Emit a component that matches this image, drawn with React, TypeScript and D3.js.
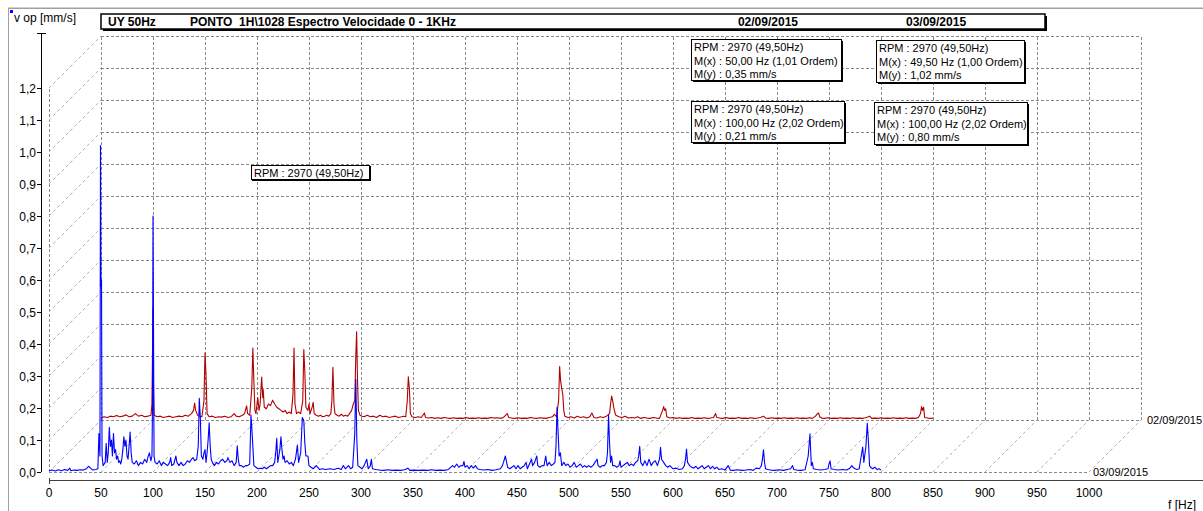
import React from "react";
import * as d3 from "d3";

// Waterfall spectrum: two velocity spectra (0–800 Hz) stacked in depth.
const xTickValues = [0, 50, 100, 150, 200, 250, 300, 350, 400, 450, 500, 550, 600, 650, 700, 750, 800, 850, 900, 950, 1000];
const yTickValues = [0, 0.1, 0.2, 0.3, 0.4, 0.5, 0.6, 0.7, 0.8, 0.9, 1.0, 1.1, 1.2];

const seriesDates = ["03/09/2015", "02/09/2015"];

// 03/09/2015 spectrum (front), [Hz, mm/s]
const spectrumFront: [number, number][] = [
  [0, 0.004], [3, 0.006], [6, 0.003], [9, 0.007], [12, 0.004], [15, 0.008], [18, 0.005], [20, 0.012], [21, 0.004],
  [24, 0.006], [27, 0.005], [30, 0.007], [33, 0.006], [36, 0.01], [38, 0.018], [40, 0.012], [42, 0.006], [45, 0.008],
  [47, 0.01], [48, 0.12], [49, 0.05], [49.5, 1.02], [50, 0.58], [50.5, 0.6], [51, 0.05], [52, 0.02], [54, 0.03],
  [55, 0.09], [56, 0.03], [57, 0.06], [58, 0.14], [59, 0.08], [60, 0.1], [61, 0.05], [62, 0.12], [63, 0.06],
  [64, 0.07], [65, 0.04], [66, 0.05], [67, 0.03], [68, 0.035], [69, 0.025], [70, 0.04], [71, 0.07], [72, 0.11],
  [73, 0.08], [74, 0.1], [75, 0.05], [76, 0.04], [77, 0.08], [78, 0.125], [79, 0.06], [80, 0.03], [82, 0.025],
  [84, 0.035], [86, 0.02], [88, 0.03], [90, 0.025], [92, 0.04], [94, 0.03], [95, 0.045], [96.5, 0.06], [98, 0.035],
  [99, 0.05], [99.5, 0.2], [100, 0.8], [100.5, 0.45], [101, 0.05], [102, 0.03], [104, 0.025], [106, 0.035],
  [108, 0.02], [110, 0.03], [112, 0.025], [114, 0.02], [116, 0.03], [117, 0.045], [118, 0.02], [120, 0.025],
  [122, 0.05], [123, 0.03], [125, 0.02], [127, 0.03], [129, 0.02], [131, 0.025], [133, 0.035], [135, 0.03],
  [137, 0.04], [138.5, 0.045], [140, 0.035], [142, 0.04], [143.5, 0.08], [144.5, 0.23], [145.5, 0.17],
  [146.5, 0.05], [148, 0.04], [149, 0.06], [150, 0.07], [151, 0.03], [152, 0.06], [153, 0.1], [154, 0.154],
  [155, 0.08], [156, 0.04], [157, 0.03], [159, 0.02], [161, 0.03], [163, 0.025], [165, 0.035], [167, 0.04],
  [169, 0.03], [171, 0.035], [172, 0.045], [174, 0.03], [176, 0.035], [178, 0.02], [180, 0.03], [181, 0.082],
  [182, 0.04], [183, 0.02], [185, 0.02], [187, 0.015], [189, 0.02], [191, 0.02], [193, 0.025], [194.2, 0.178],
  [195, 0.14], [196, 0.08], [197, 0.02], [199, 0.015], [201, 0.01], [203, 0.012], [205, 0.01], [207, 0.015],
  [209, 0.01], [211, 0.015], [213, 0.02], [215, 0.02], [217, 0.03], [218, 0.06], [219, 0.105], [220, 0.03],
  [221, 0.05], [222, 0.07], [223, 0.11], [224, 0.07], [225, 0.04], [226, 0.05], [227, 0.03], [229, 0.035],
  [231, 0.025], [233, 0.03], [235, 0.02], [237, 0.04], [238.8, 0.084], [240, 0.03], [242, 0.06], [243.6, 0.17],
  [245, 0.16], [246, 0.09], [247, 0.05], [249, 0.05], [250, 0.02], [252, 0.015], [254, 0.01], [257, 0.02],
  [260, 0.008], [263, 0.01], [266, 0.008], [270, 0.01], [274, 0.008], [278, 0.012], [281, 0.008], [283, 0.02],
  [285, 0.01], [288, 0.02], [290, 0.01], [292, 0.015], [294, 0.12], [295, 0.29], [296, 0.1], [297, 0.02],
  [299, 0.015], [301, 0.01], [303, 0.02], [305.5, 0.04], [307, 0.01], [309, 0.02], [310, 0.04], [311, 0.01],
  [314, 0.008], [318, 0.006], [322, 0.005], [326, 0.007], [330, 0.005], [334, 0.006], [338, 0.005], [342, 0.007],
  [345, 0.012], [347, 0.005], [351, 0.006], [355, 0.005], [360, 0.006], [364, 0.005], [368, 0.007], [372, 0.005],
  [376, 0.006], [380, 0.005], [384, 0.008], [388, 0.02], [390, 0.015], [392, 0.025], [394, 0.015], [396, 0.02],
  [398, 0.02], [399, 0.033], [400, 0.015], [402, 0.02], [404, 0.01], [406, 0.02], [408, 0.012], [410, 0.02],
  [412, 0.01], [414, 0.008], [418, 0.006], [422, 0.008], [426, 0.005], [430, 0.007], [434, 0.01], [436, 0.02],
  [437, 0.03], [438.8, 0.05], [440, 0.03], [441, 0.015], [443, 0.01], [445, 0.015], [447, 0.02], [449, 0.01],
  [451, 0.02], [453, 0.01], [455, 0.015], [457, 0.02], [458.7, 0.03], [460, 0.01], [462, 0.025], [464, 0.04],
  [465, 0.02], [467, 0.03], [469, 0.05], [470, 0.02], [472, 0.015], [474, 0.02], [476, 0.02], [477.6, 0.05],
  [479, 0.02], [481, 0.03], [483, 0.02], [485, 0.025], [486.5, 0.03], [487.5, 0.08], [488.5, 0.202],
  [489.5, 0.125], [490.5, 0.05], [491.7, 0.06], [493, 0.02], [495, 0.03], [497, 0.02], [499, 0.025],
  [501, 0.015], [503, 0.02], [505, 0.03], [507, 0.015], [509, 0.02], [511, 0.025], [513, 0.015], [515, 0.02],
  [517, 0.015], [519, 0.02], [521, 0.015], [523, 0.02], [525, 0.03], [527, 0.04], [528, 0.02], [530, 0.015],
  [532, 0.02], [534, 0.02], [536, 0.03], [537, 0.06], [538, 0.178], [539, 0.09], [540, 0.03], [541, 0.05],
  [542, 0.02], [544, 0.02], [546, 0.015], [548, 0.02], [549, 0.035], [550, 0.015], [552, 0.02], [554, 0.025],
  [556, 0.03], [558, 0.02], [560, 0.025], [562, 0.02], [564, 0.03], [566, 0.035], [567, 0.05], [568, 0.08],
  [569, 0.03], [571, 0.02], [573, 0.035], [575, 0.02], [577, 0.04], [579, 0.02], [581, 0.03], [583, 0.035],
  [585, 0.02], [587, 0.04], [588, 0.077], [589, 0.04], [591, 0.03], [593, 0.02], [595, 0.015], [597, 0.02],
  [600, 0.01], [603, 0.012], [606, 0.008], [609, 0.01], [611, 0.02], [612, 0.04], [613, 0.072], [614, 0.03],
  [616, 0.02], [618, 0.015], [620, 0.012], [622, 0.018], [624, 0.01], [626, 0.015], [628, 0.02], [630, 0.01],
  [632, 0.015], [634, 0.02], [636, 0.01], [638, 0.018], [640, 0.01], [642, 0.015], [644, 0.008], [647, 0.01],
  [650, 0.006], [653, 0.02], [655, 0.006], [658, 0.005], [662, 0.007], [666, 0.005], [670, 0.006], [674, 0.008],
  [677, 0.005], [680, 0.012], [683, 0.01], [685, 0.02], [686, 0.04], [687, 0.069], [688, 0.03], [689, 0.01],
  [691, 0.008], [694, 0.006], [698, 0.005], [702, 0.007], [706, 0.005], [710, 0.008], [713, 0.01], [715, 0.02],
  [716, 0.008], [719, 0.006], [723, 0.005], [727, 0.007], [730, 0.05], [731.7, 0.119], [733, 0.02], [734, 0.03],
  [735, 0.01], [738, 0.008], [742, 0.006], [746, 0.008], [749, 0.01], [750, 0.025], [751, 0.035], [752, 0.01],
  [755, 0.008], [759, 0.006], [763, 0.008], [767, 0.006], [770, 0.012], [772, 0.02], [773, 0.015], [775, 0.01],
  [777, 0.008], [779, 0.01], [781, 0.05], [782.4, 0.078], [783.5, 0.03], [785.5, 0.08], [786.8, 0.152],
  [788, 0.09], [789, 0.02], [790, 0.015], [792, 0.01], [794, 0.015], [796, 0.008], [798, 0.01], [800, 0.006],
];

// 02/09/2015 spectrum (back), [Hz, mm/s]
const spectrumBack: [number, number][] = [
  [0, 0.006], [3, 0.01], [6, 0.008], [9, 0.012], [12, 0.01], [15, 0.014], [18, 0.01], [21, 0.012], [24, 0.016],
  [27, 0.01], [30, 0.012], [33, 0.02], [36, 0.012], [39, 0.015], [42, 0.01], [45, 0.012], [48, 0.015], [49, 0.05],
  [49.5, 0.2], [50, 0.35], [50.5, 0.1], [51, 0.015], [54, 0.01], [57, 0.012], [60, 0.008], [63, 0.01], [66, 0.012],
  [69, 0.008], [72, 0.01], [75, 0.012], [78, 0.01], [81, 0.015], [84, 0.012], [87, 0.02], [89, 0.03], [90, 0.053],
  [91, 0.03], [93, 0.015], [95, 0.012], [97, 0.01], [99, 0.06], [100, 0.21], [101, 0.14], [102, 0.02], [104, 0.01],
  [107, 0.012], [110, 0.008], [113, 0.01], [116, 0.009], [119, 0.012], [122, 0.008], [125, 0.01], [128, 0.02],
  [130, 0.012], [133, 0.01], [136, 0.015], [138, 0.02], [140, 0.044], [141, 0.02], [143, 0.015], [145, 0.1],
  [146, 0.225], [147, 0.12], [148, 0.03], [149, 0.02], [150.7, 0.07], [152, 0.03], [153, 0.05], [154.5, 0.134],
  [155.5, 0.07], [156, 0.094], [157, 0.04], [159, 0.035], [161, 0.05], [163, 0.045], [165, 0.062], [167, 0.05],
  [169, 0.04], [171, 0.035], [173, 0.03], [175, 0.025], [177, 0.03], [179, 0.02], [181, 0.025], [183, 0.02],
  [184.6, 0.08], [185.6, 0.225], [186.5, 0.05], [188, 0.02], [190, 0.025], [192, 0.02], [194, 0.06], [195, 0.22],
  [196, 0.15], [197, 0.04], [199, 0.03], [200, 0.05], [201, 0.02], [203, 0.04], [204, 0.055], [205, 0.02],
  [207, 0.015], [209, 0.012], [211, 0.015], [213, 0.01], [215, 0.012], [217, 0.015], [219, 0.012], [221, 0.02],
  [222, 0.06], [223, 0.165], [224, 0.05], [225, 0.02], [227, 0.015], [229, 0.012], [231, 0.018], [233, 0.012],
  [235, 0.015], [237, 0.012], [239, 0.02], [241, 0.03], [242.6, 0.05], [244, 0.06], [245, 0.2], [245.8, 0.276],
  [246.6, 0.13], [247.5, 0.03], [249, 0.015], [251, 0.012], [253, 0.01], [256, 0.015], [259, 0.01], [262, 0.012],
  [265, 0.008], [268, 0.015], [271, 0.01], [274, 0.012], [277, 0.008], [280, 0.01], [283, 0.012], [286, 0.008],
  [289, 0.01], [291, 0.012], [293, 0.01], [294.5, 0.06], [295.5, 0.135], [296.5, 0.1], [297.5, 0.02], [299, 0.01],
  [302, 0.008], [305, 0.01], [308, 0.008], [311, 0.022], [312, 0.008], [315, 0.006], [318, 0.008], [321, 0.005],
  [324, 0.007], [327, 0.005], [330, 0.008], [333, 0.006], [336, 0.005], [339, 0.007], [342, 0.005], [345, 0.006],
  [348, 0.005], [351, 0.008], [354, 0.005], [357, 0.006], [360, 0.005], [363, 0.007], [366, 0.005], [369, 0.006],
  [372, 0.005], [375, 0.008], [378, 0.006], [381, 0.007], [384, 0.005], [387, 0.008], [390.7, 0.02], [392, 0.008],
  [395, 0.006], [398, 0.005], [401, 0.007], [404, 0.005], [407, 0.006], [410, 0.005], [413, 0.008], [416, 0.006],
  [419, 0.005], [422, 0.007], [425, 0.006], [428, 0.005], [431, 0.008], [434, 0.01], [436, 0.018], [438, 0.01],
  [440, 0.06], [441, 0.167], [442, 0.12], [443, 0.1], [444, 0.08], [445, 0.03], [446, 0.012], [449, 0.008],
  [452, 0.01], [455, 0.006], [458, 0.012], [461, 0.008], [464, 0.01], [467, 0.006], [470, 0.01], [472, 0.022],
  [474, 0.008], [477, 0.006], [480, 0.01], [483, 0.008], [486, 0.012], [489, 0.02], [490, 0.05], [491, 0.075],
  [492, 0.06], [493, 0.04], [494, 0.025], [495, 0.015], [498, 0.01], [501, 0.008], [504, 0.012], [507, 0.006],
  [510, 0.008], [513, 0.006], [516, 0.01], [519, 0.005], [522, 0.008], [525, 0.006], [528, 0.005], [531, 0.008],
  [534, 0.006], [537, 0.005], [540, 0.03], [541, 0.042], [542, 0.03], [543, 0.035], [544, 0.01], [547, 0.006],
  [550, 0.008], [553, 0.005], [556, 0.007], [559, 0.005], [562, 0.006], [565, 0.005], [568, 0.008], [571, 0.005],
  [574, 0.006], [577, 0.005], [580, 0.007], [583, 0.005], [586, 0.006], [589, 0.008], [591, 0.02], [592, 0.008],
  [595, 0.006], [598, 0.005], [601, 0.008], [604, 0.005], [607, 0.006], [610, 0.005], [613, 0.008], [616, 0.005],
  [619, 0.006], [622, 0.005], [625, 0.007], [628, 0.005], [631, 0.006], [634, 0.008], [637, 0.012], [639, 0.006],
  [642, 0.005], [645, 0.007], [648, 0.005], [651, 0.006], [654, 0.005], [657, 0.007], [660, 0.005], [663, 0.006],
  [666, 0.005], [669, 0.007], [672, 0.005], [675, 0.006], [678, 0.005], [681, 0.007], [684, 0.005], [687, 0.012],
  [689, 0.02], [690, 0.022], [691, 0.01], [693, 0.006], [696, 0.005], [699, 0.007], [702, 0.005], [705, 0.006],
  [708, 0.005], [711, 0.007], [714, 0.005], [717, 0.006], [720, 0.005], [723, 0.007], [726, 0.005], [729, 0.006],
  [732, 0.005], [735, 0.007], [738, 0.01], [739, 0.012], [741, 0.005], [744, 0.006], [747, 0.005], [750, 0.007],
  [753, 0.005], [756, 0.006], [759, 0.005], [762, 0.007], [765, 0.005], [768, 0.006], [771, 0.005], [774, 0.007],
  [777, 0.005], [780, 0.006], [783, 0.005], [786, 0.008], [788, 0.02], [789, 0.042], [790, 0.03], [791, 0.04],
  [792, 0.008], [795, 0.006], [798, 0.005], [800, 0.006],
];

// Cursor readouts shown for each date
const markerBack = ["RPM : 2970 (49,50Hz)", "M(x) : 50,00 Hz (1,01 Ordem)", "M(y) : 0,35 mm/s"];
const markerFront = ["RPM : 2970 (49,50Hz)", "M(x) : 49,50 Hz (1,00 Ordem)", "M(y) : 1,02 mm/s"];
const harmonicBack = ["RPM : 2970 (49,50Hz)", "M(x) : 100,00 Hz (2,02 Ordem)", "M(y) : 0,21 mm/s"];
const harmonicFront = ["RPM : 2970 (49,50Hz)", "M(x) : 100,00 Hz (2,02 Ordem)", "M(y) : 0,80 mm/s"];
const rpmLabel = "RPM : 2970 (49,50Hz)";

const W = 1203;
const H = 511;
const FONT = "'Liberation Sans', Arial, sans-serif";

const x = d3.scaleLinear().domain([0, 1000]).range([49, 1089]);
const y = d3.scaleLinear().domain([0, 1.2]).range([472, 88]);
const DEPTH = 52; // screen offset of the back spectrum (right and up)

const fmtY = (v: number) => v.toFixed(1).replace(".", ",");

function Box({ bx, by, w, h, lines }: { bx: number; by: number; w: number; h: number; lines: string[] }) {
  return (
    <g>
      <rect x={bx + 2} y={by + 2} width={w} height={h} fill="#000" />
      <rect x={bx + 0.5} y={by + 0.5} width={w} height={h} fill="#fff" stroke="#000" strokeWidth={1} />
      {lines.map((t, i) => (
        <text key={i} x={bx + 3} y={by + 12 + i * 13.5} fontSize={11} fontFamily={FONT} fill="#000">
          {t}
        </text>
      ))}
    </g>
  );
}

export default function App() {
  const line = (off: number) =>
    d3
      .line<[number, number]>()
      .x((d) => x(d[0]) + off)
      .y((d) => y(d[1]) - off);

  const gridColor = "#8a8a8a";
  const diagColor = "#b0b0b0";
  const x0 = x(0);
  const x1 = x(1000);
  const y0 = y(0);
  const yTop = y(1.2);

  return (
    <svg
      width={W}
      height={H}
      style={{ position: "absolute", left: 0, top: 0, background: "#fff" }}
    >
      {/* panel frame */}
      <line x1={8} y1={7.5} x2={W} y2={7.5} stroke="#d0d0d0" />
      <line x1={8} y1={8.5} x2={W} y2={8.5} stroke="#a0a0a0" />
      <line x1={8.5} y1={8} x2={8.5} y2={H} stroke="#a0a0a0" />
      <rect x={10} y={10} width={3} height={3} fill="#0000ff" />

      {/* back wall grid */}
      <g stroke={gridColor} strokeDasharray="3,2" strokeWidth={1} fill="none">
        {yTickValues.map((v) => (
          <line key={"h" + v} x1={x0 + DEPTH} x2={x1 + DEPTH} y1={Math.round(y(v) - DEPTH) + 0.5} y2={Math.round(y(v) - DEPTH) + 0.5} />
        ))}
        {xTickValues.map((f) => (
          <line key={"v" + f} x1={Math.round(x(f) + DEPTH) + 0.5} x2={Math.round(x(f) + DEPTH) + 0.5} y1={y0 - DEPTH} y2={yTop - DEPTH} />
        ))}
        <line x1={x0 + 0.5} x2={x0 + 0.5} y1={y0} y2={yTop} />
        <line x1={x0} x2={x1} y1={y0 + 0.5} y2={y0 + 0.5} />
      </g>
      {/* side wall and floor diagonals */}
      <g stroke={diagColor} strokeDasharray="3,3" strokeWidth={1} fill="none">
        {yTickValues.map((v) => (
          <line key={"d" + v} x1={x0} y1={y(v)} x2={x0 + DEPTH} y2={y(v) - DEPTH} />
        ))}
        {xTickValues.map((f) => (
          <line key={"f" + f} x1={x(f)} y1={y0} x2={x(f) + DEPTH} y2={y0 - DEPTH} />
        ))}
      </g>

      {/* spectra */}
      <path d={line(DEPTH)(spectrumBack) ?? ""} fill="none" stroke="#b00000" strokeWidth={1.1} strokeLinejoin="round" />
      <path d={line(0)(spectrumFront) ?? ""} fill="none" stroke="#0000ff" strokeWidth={1.1} strokeLinejoin="round" />

      {/* date labels at the end of each trace */}
      <text x={x1 + DEPTH + 6} y={y0 - DEPTH + 4} fontSize={11} fontFamily={FONT} fill="#000">
        {seriesDates[1]}
      </text>
      <text x={x1 + 4} y={y0 + 4} fontSize={11} fontFamily={FONT} fill="#000">
        {seriesDates[0]}
      </text>

      {/* y axis */}
      <g fontFamily={FONT} fontSize={12} fill="#000">
        <line x1={41.5} x2={41.5} y1={33} y2={y0} stroke="#000" />
        <line x1={37} x2={46} y1={33.5} y2={33.5} stroke="#000" />
        {yTickValues.map((v) => (
          <g key={"yt" + v}>
            <line x1={37} x2={41} y1={Math.round(y(v)) + 0.5} y2={Math.round(y(v)) + 0.5} stroke="#000" />
            <text x={36} y={y(v) + 4.5} textAnchor="end">
              {fmtY(v)}
            </text>
          </g>
        ))}
        <text x={14} y={22} fontSize={12}>
          v op [mm/s]
        </text>
      </g>

      {/* x axis */}
      <g fontFamily={FONT} fontSize={12} fill="#000">
        <line x1={x0} x2={W} y1={480.5} y2={480.5} stroke="#404040" />
        <line x1={x0 + 0.5} x2={x0 + 0.5} y1={478} y2={484} stroke="#404040" />
        {xTickValues.map((f) => (
          <text key={"xt" + f} x={x(f)} y={496.5} textAnchor="middle">
            {f}
          </text>
        ))}
        <text x={1196} y={509} textAnchor="end">
          f [Hz]
        </text>
      </g>

      {/* header bar */}
      <g fontFamily={FONT} fontSize={12} fontWeight="bold" fill="#000">
        <rect x={103} y={16} width={944} height={15} fill="#000" />
        <rect x={101} y={14} width={944} height={15} fill="#fff" stroke="#000" strokeWidth={1.5} />
        <text x={108} y={26}>UY 50Hz</text>
        <text x={190} y={26} style={{ whiteSpace: "pre" }}>
          {"PONTO  1H\\1028 Espectro Velocidade 0 - 1KHz"}
        </text>
        <text x={798} y={26} textAnchor="end">
          {seriesDates[1]}
        </text>
        <text x={906} y={26}>{seriesDates[0]}</text>
      </g>

      {/* cursor readouts */}
      <Box bx={691} by={39} w={150} h={41} lines={markerBack} />
      <Box bx={876} by={40} w={148} h={42} lines={markerFront} />
      <Box bx={691} by={101} w={153} h={41} lines={harmonicBack} />
      <Box bx={874} by={102} w={153} h={42} lines={harmonicFront} />
      <g>
        <rect x={252} y={166} width={119} height={15} fill="#000" />
        <rect x={251.5} y={165.5} width={118} height={14} fill="#fff" stroke="#000" />
        <text x={254} y={177} fontSize={11} fontFamily={FONT} fill="#000">
          {rpmLabel}
        </text>
      </g>
    </svg>
  );
}
